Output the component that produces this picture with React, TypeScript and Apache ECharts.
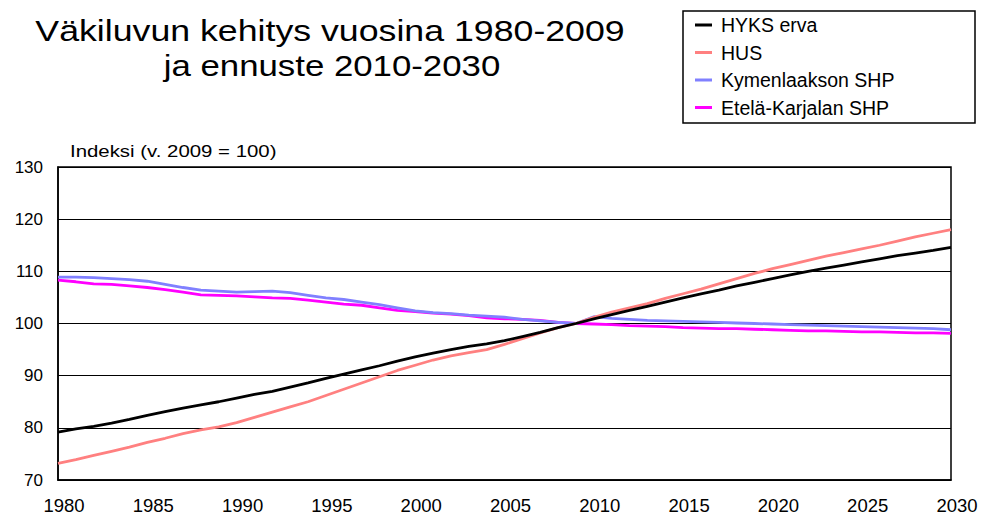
import React, { useEffect, useRef } from "react";
import * as echarts from "echarts";

const years: number[] = [];
for (let y = 1980; y <= 2030; y++) years.push(y);

const seriesNames = ["HYKS erva", "HUS", "Kymenlaakson SHP", "Etelä-Karjalan SHP"];
const seriesColors = ["#000000", "#FF8080", "#8080FF", "#FF00FF"];

const hyksErva = [
  79.2, 79.8, 80.3, 80.9, 81.6, 82.4, 83.1, 83.8, 84.4, 85.0,
  85.7, 86.4, 87.0, 87.8, 88.6, 89.5, 90.3, 91.1, 91.9, 92.8,
  93.6, 94.3, 95.0, 95.6, 96.1, 96.7, 97.5, 98.3, 99.2, 100.0,
  100.9, 101.7, 102.5, 103.3, 104.1, 104.9, 105.7, 106.4, 107.2, 107.9,
  108.6, 109.3, 110.0, 110.6, 111.2, 111.8, 112.4, 113.0, 113.5, 114.0,
  114.6,
];
const hus = [
  73.2, 73.9, 74.7, 75.5, 76.3, 77.2, 78.0, 78.9, 79.6, 80.2,
  81.0, 82.0, 83.0, 84.0, 85.0, 86.2, 87.4, 88.6, 89.8, 91.0,
  92.0, 93.0, 93.8, 94.4, 95.0, 96.0, 97.1, 98.2, 99.2, 100.0,
  101.2, 102.2, 103.0, 103.8, 104.8, 105.7, 106.6, 107.6, 108.6, 109.6,
  110.5, 111.3, 112.1, 112.9, 113.6, 114.3, 115.0, 115.8, 116.6, 117.3,
  118.0,
];
const kymenlaakso = [
  108.9, 108.9, 108.8, 108.6, 108.4, 108.1, 107.5, 106.9, 106.4, 106.2,
  106.0, 106.1, 106.2, 105.9, 105.4, 104.9, 104.6, 104.1, 103.6, 103.0,
  102.4, 102.1, 101.9, 101.6, 101.4, 101.2, 100.8, 100.5, 100.2, 100.0,
  101.3, 101.0, 100.8, 100.6, 100.5, 100.4, 100.3, 100.2, 100.1, 100.0,
  99.9, 99.8, 99.7, 99.6, 99.5, 99.4, 99.3, 99.2, 99.1, 99.0,
  98.8,
];
const etelaKarjala = [
  108.3, 108.0, 107.6, 107.5, 107.2, 106.9, 106.5, 106.0, 105.5, 105.4,
  105.3, 105.1, 104.9, 104.8, 104.5, 104.1, 103.7, 103.5, 103.0, 102.5,
  102.3, 102.0, 101.8, 101.5, 101.1, 100.9, 100.8, 100.6, 100.2, 100.0,
  99.9, 99.8, 99.6, 99.5, 99.4, 99.2, 99.1, 99.0, 99.0, 98.9,
  98.8, 98.7, 98.6, 98.6, 98.5, 98.4, 98.4, 98.3, 98.2, 98.2,
  98.1,
];
const allValues = [hyksErva, hus, kymenlaakso, etelaKarjala];

const titleLine1 = "Väkiluvun kehitys vuosina 1980-2009";
const titleLine2 = "ja ennuste 2010-2030";
const yAxisTitle = "Indeksi (v. 2009 = 100)";

const FONT = "'Liberation Sans', Arial, sans-serif";

export default function App() {
  const ref = useRef<HTMLDivElement>(null);
  useEffect(() => {
    if (!ref.current) return;
    const chart = echarts.init(ref.current, null, { renderer: "svg" });
    chart.setOption({
      animation: false,
      backgroundColor: "#ffffff",
      grid: {
        left: 58,
        right: 30,
        top: 167,
        bottom: 34.5,
        show: true,
        borderColor: "#000",
        borderWidth: 1.5,
        backgroundColor: "transparent",
      },
      legend: {
        orient: "vertical",
        left: 690,
        top: 10,
        icon: "rect",
        itemWidth: 17,
        itemHeight: 3,
        itemGap: 7.5,
        selectedMode: false,
        data: seriesNames,
        textStyle: {
          fontSize: 19.5,
          fontFamily: FONT,
          color: "#000",
          lineHeight: 20,
          padding: [0, 0, 0, 4],
        },
      },
      graphic: [
        {
          type: "rect",
          shape: { x: 683, y: 11, width: 292, height: 112 },
          style: { fill: "none", stroke: "#000", lineWidth: 1.5 },
          silent: true,
        },
        {
          type: "text",
          x: 330,
          y: 31,
          scaleX: 1.19,
          style: {
            text: titleLine1,
            fontSize: 30,
            fontFamily: FONT,
            fill: "#000",
            align: "center",
            verticalAlign: "middle",
          },
        },
        {
          type: "text",
          x: 332,
          y: 66,
          scaleX: 1.16,
          style: {
            text: titleLine2,
            fontSize: 30,
            fontFamily: FONT,
            fill: "#000",
            align: "center",
            verticalAlign: "middle",
          },
        },
        {
          type: "text",
          x: 70,
          y: 151.5,
          scaleX: 1.2,
          style: {
            text: yAxisTitle,
            fontSize: 17,
            fontFamily: FONT,
            fill: "#000",
            align: "left",
            verticalAlign: "middle",
          },
        },
      ],
      xAxis: {
        type: "value",
        min: 1980,
        max: 2030,
        interval: 5,
        axisLine: { show: true, lineStyle: { color: "#000", width: 1.5 } },
        axisTick: { show: false },
        splitLine: { show: false },
        axisLabel: {
          fontSize: 18.5,
          fontFamily: FONT,
          color: "#000",
          margin: 16,
          padding: [0, 0, 0, 12],
          formatter: (v: number) => String(v),
        },
      },
      yAxis: {
        type: "value",
        min: 70,
        max: 130,
        interval: 10,
        axisLine: { show: true, lineStyle: { color: "#000", width: 1.5 } },
        axisTick: { show: false },
        splitLine: { show: true, lineStyle: { color: "#000", width: 1 } },
        axisLabel: {
          fontSize: 17,
          fontFamily: FONT,
          color: "#000",
          margin: 15,
        },
      },
      series: seriesNames.map((name, i) => ({
        name,
        type: "line",
        showSymbol: false,
        symbol: "none",
        smooth: false,
        color: seriesColors[i],
        lineStyle: { color: seriesColors[i], width: 2.8 },
        data: years.map((y, j) => [y, allValues[i][j]]),
        z: 10 - i,
      })),
    });
    return () => chart.dispose();
  }, []);
  return (
    <div
      ref={ref}
      style={{ position: "fixed", left: 0, top: 0, width: 981, height: 515, background: "#fff" }}
    />
  );
}
